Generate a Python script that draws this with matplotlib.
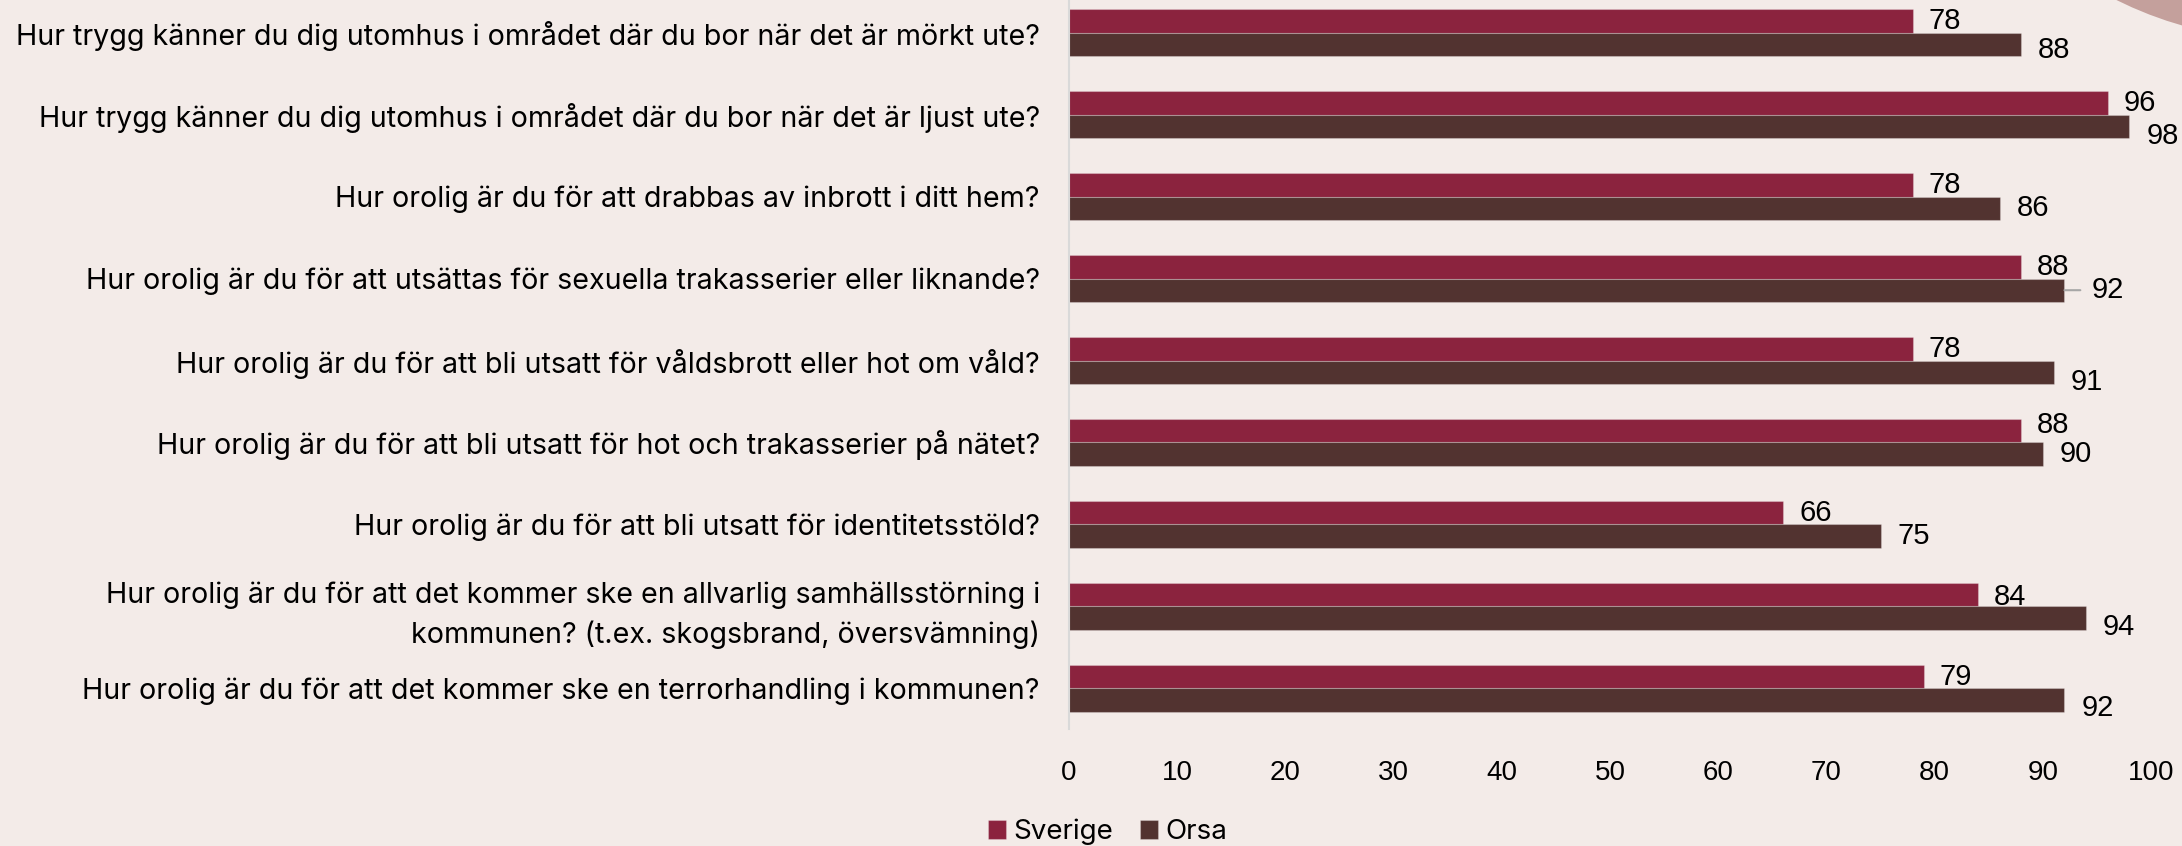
import matplotlib
matplotlib.use("Agg")
import matplotlib.pyplot as plt
from matplotlib.patches import Ellipse
import numpy as np

# data
questions = [
    "Hur trygg känner du dig utomhus i området där du bor när det är mörkt ute?",
    "Hur trygg känner du dig utomhus i området där du bor när det är ljust ute?",
    "Hur orolig är du för att drabbas av inbrott i ditt hem?",
    "Hur orolig är du för att utsättas för sexuella trakasserier eller liknande?",
    "Hur orolig är du för att bli utsatt för våldsbrott eller hot om våld?",
    "Hur orolig är du för att bli utsatt för hot och trakasserier på nätet?",
    "Hur orolig är du för att bli utsatt för identitetsstöld?",
    "Hur orolig är du för att det kommer ske en allvarlig samhällsstörning i\nkommunen? (t.ex. skogsbrand, översvämning)",
    "Hur orolig är du för att det kommer ske en terrorhandling i kommunen?",
]
sverige = [78, 96, 78, 88, 78, 88, 66, 84, 79]
orsa = [88, 98, 86, 92, 91, 90, 75, 94, 92]
ticks = [0, 10, 20, 30, 40, 50, 60, 70, 80, 90, 100]

# label nudges in pixels (positive = downwards), like Excel's placement
sv_dy = [0, 0, 0, 0, 0, -6, 0, 2, 0]
or_dy = [6, 10, 0, 0, 10, 0, 0, 9, 8]
leader_rows = [3]

bg = "#F3EBE8"
c_sv = "#8B233E"
c_or = "#523330"
cat_font = "Inter"
num_font = "Liberation Sans"

fig = plt.figure(figsize=(21.82, 8.46), dpi=100, facecolor=bg)
fig.patches.append(Ellipse((1.0477, 1.4019), 0.3483, 0.8983, transform=fig.transFigure,
                           facecolor="#C4A09C", edgecolor="none", zorder=0))

ax = fig.add_axes([0.48992, 0.1379, 0.49588, 0.8719])
ax.set_facecolor("none")

y = np.arange(len(questions))
h = 0.284
b1 = ax.barh(y - h / 2, sverige, height=h, color=c_sv, edgecolor=(1, 1, 1, 0.25), linewidth=0.8, label="Sverige")
b2 = ax.barh(y + h / 2, orsa, height=h, color=c_or, edgecolor=(1, 1, 1, 0.25), linewidth=0.8, label="Orsa")

for i, v in enumerate(sverige):
    ax.annotate(str(v), (v, i - h / 2), xytext=(16, -sv_dy[i]), textcoords="offset pixels",
                va="center", ha="left", fontsize=21, family=num_font)
for i, v in enumerate(orsa):
    if i in leader_rows:
        ax.annotate(str(v), (v, i + h / 2), xytext=(27, 0), textcoords="offset pixels",
                    va="center", ha="left", fontsize=21, family=num_font,
                    arrowprops=dict(arrowstyle="-", color="#A6A6A6", lw=1.5,
                                    shrinkA=6, shrinkB=0, relpos=(0, 0.5)))
    else:
        ax.annotate(str(v), (v, i + h / 2), xytext=(17, -or_dy[i]), textcoords="offset pixels",
                    va="center", ha="left", fontsize=21, family=num_font)

ax.set_xlim(0, 100)
ax.set_ylim(len(questions) - 0.5, -0.5)
ax.set_xticks(ticks)
ax.set_xticklabels([str(t) for t in ticks], fontsize=20, family=num_font)
ax.set_yticks(y)
ax.set_yticklabels(questions, fontsize=20.6, family=cat_font, linespacing=1.5)
ax.tick_params(axis="x", length=0, pad=22)
ax.tick_params(axis="y", length=0, pad=21)

for s in ["top", "right", "bottom"]:
    ax.spines[s].set_visible(False)
ax.spines["left"].set_color("#D9D9D9")
ax.spines["left"].set_linewidth(1.5)

fig.legend(handles=[b1, b2], labels=["Sverige", "Orsa"], ncol=2, loc="center",
           bbox_to_anchor=(0.5076, 0.0165), frameon=False,
           prop={"family": cat_font, "size": 20},
           handlelength=0.65, handleheight=0.65, handletextpad=0.25, columnspacing=1.0)

fig.savefig("out.png", dpi=100, facecolor=bg)
